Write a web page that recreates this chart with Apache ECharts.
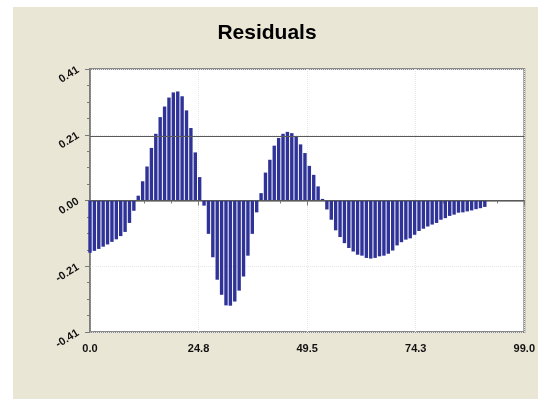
<!DOCTYPE html>
<html>
<head>
<meta charset="utf-8">
<script src="https://cdn.jsdelivr.net/npm/echarts@6/dist/echarts.min.js"></script>
<style>
  html, body { margin: 0; padding: 0; background: #ffffff; width: 538px; height: 399px; overflow: hidden; }
  #chart { position: absolute; left: 13px; top: 7px; width: 525px; height: 392px; }
</style>
</head>
<body>
<div id="chart"></div>
<script>
const chartTitle = 'Residuals';
const xValues = [0,1,2,3,4,5,6,7,8,9,10,11,12,13,14,15,16,17,18,19,20,21,22,23,24,25,26,27,28,29,30,
  31,32,33,34,35,36,37,38,39,40,41,42,43,44,45,46,47,48,49,50,51,52,53,54,55,56,57,58,59,60,
  61,62,63,64,65,66,67,68,69,70,71,72,73,74,75,76,77,78,79,80,81,82,83,84,85,86,87,88,89,90];
const residuals = [
  -0.163,-0.157,-0.151,-0.144,-0.137,-0.129,-0.121,-0.111,-0.098,-0.070,
  -0.032, 0.015, 0.060, 0.106, 0.164, 0.208, 0.260, 0.293, 0.321, 0.337,
   0.340, 0.325, 0.281, 0.226, 0.150, 0.073,-0.016,-0.104,-0.177,-0.247,
  -0.294,-0.327,-0.328,-0.315,-0.281,-0.237,-0.172,-0.104,-0.037, 0.023,
   0.087, 0.127, 0.171, 0.195, 0.208, 0.214, 0.210, 0.200, 0.175, 0.148,
   0.108, 0.080, 0.044, 0.005,-0.028,-0.060,-0.093,-0.114,-0.133,-0.148,
  -0.159,-0.169,-0.172,-0.179,-0.181,-0.179,-0.174,-0.172,-0.166,-0.156,
  -0.140,-0.130,-0.122,-0.118,-0.107,-0.095,-0.088,-0.081,-0.075,-0.070,
  -0.060,-0.055,-0.048,-0.044,-0.038,-0.037,-0.034,-0.031,-0.027,-0.024,
  -0.020
];
const xTickLabels = ['0.0', '24.8', '49.5', '74.3', '99.0'];
const yTickLabels = ['-0.41', '-0.21', '0.00', '0.21', '0.41'];
const xMin = 0, xMax = 99, xStep = 24.75;
const yMin = -0.41, yMax = 0.41, yStep = 0.205;
const refLines = [0.205, 0];

const font = '"Liberation Sans", Arial, sans-serif';
const chart = echarts.init(document.getElementById('chart'));
chart.setOption({
  backgroundColor: '#EAE6D5',
  animation: false,
  title: {
    text: chartTitle, left: 249, top: 11, textAlign: 'center',
    textStyle: { fontSize: 21, fontWeight: 'bold', fontFamily: font, color: '#000' }
  },
  grid: {
    left: 77, top: 62, right: 13, bottom: 67,
    show: true, backgroundColor: '#ffffff', borderColor: '#8a8a8a', borderWidth: 2
  },
  xAxis: {
    type: 'value', min: xMin, max: xMax, interval: xStep,
    axisLine: { show: true, lineStyle: { color: '#7a7a7a', width: 1.5 } },
    axisTick: { show: true, inside: false, length: 5, lineStyle: { color: '#7a7a7a' } },
    minorTick: { show: true, splitNumber: 4, length: 3, lineStyle: { color: '#7a7a7a' } },
    splitLine: { show: true, lineStyle: { color: '#e6e6e6', type: 'dotted' } },
    axisLabel: {
      margin: 11, fontSize: 11, fontWeight: 'bold', fontFamily: font, color: '#111',
      formatter: v => xTickLabels[Math.round((v - xMin) / xStep)]
    }
  },
  yAxis: {
    type: 'value', min: yMin, max: yMax, interval: yStep,
    axisLine: { show: true, lineStyle: { color: '#7a7a7a', width: 1.5 } },
    axisTick: { show: true, inside: false, length: 5, lineStyle: { color: '#7a7a7a' } },
    minorTick: { show: true, splitNumber: 4, length: 3, lineStyle: { color: '#7a7a7a' } },
    splitLine: { show: true, lineStyle: { color: '#e6e6e6', type: 'dotted' } },
    axisLabel: {
      margin: 12, rotate: 32, fontSize: 11, fontWeight: 'bold', fontFamily: font, color: '#111',
      formatter: v => yTickLabels[Math.round((v - yMin) / yStep)]
    }
  },
  series: [{
    type: 'bar',
    data: xValues.map((x, i) => [x, residuals[i]]),
    barWidth: 3.4,
    itemStyle: { color: '#2f3398' },
    markLine: {
      silent: true, symbol: 'none', label: { show: false },
      lineStyle: { color: '#5a5a5a', type: 'solid', width: 1 },
      data: refLines.map(v => ({ yAxis: v }))
    }
  }]
});
</script>
</body>
</html>
